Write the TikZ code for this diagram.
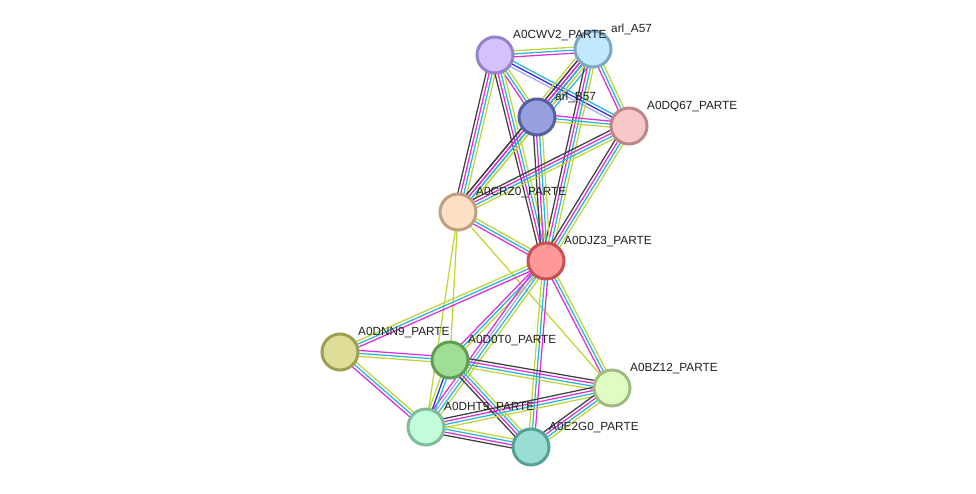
\documentclass[tikz,border=0pt]{standalone}
\usepackage{fontspec}
\setmainfont{Liberation Sans}
\usetikzlibrary{calc}
\pgfdeclarelayer{background}
\pgfsetlayers{background,main}
\definecolor{tm}{RGB}{190,214,52}
\definecolor{db}{RGB}{38,182,216}
\definecolor{ex}{RGB}{222,44,222}
\definecolor{co}{RGB}{62,62,62}
\definecolor{oc}{RGB}{40,40,232}
\definecolor{ho}{RGB}{168,168,250}
\newcommand\stredge[3]{%
  \foreach \cc [count=\ii] in {#3} {\xdef\ncnt{\ii}}%
  \foreach \cc [count=\ii] in {#3} {%
    \pgfmathsetmacro\off{(\ii-(\ncnt+1)/2)*3.0}%
    \draw[edgeline,\cc] ($(#1)!\off pt!90:(#2)$) -- ($(#2)!\off pt!-90:(#1)$);
  }%
}
\tikzset{
  edgeline/.style={line width=1.25pt},
  prot/.style={circle, minimum size=36pt, line width=3pt, inner sep=0pt},
  plabel/.style={anchor=base west, inner sep=0pt, font=\fontsize{11.8}{13}\selectfont, text=black!88}
}
\begin{document}
\begin{tikzpicture}[x=1pt,y=-1pt]
\useasboundingbox (0,0) rectangle (976,493);
% proteins
\node[prot, fill={rgb,255:red,212;green,194;blue,252}, draw={rgb,255:red,150;green,130;blue,200}] (CWV2) at (495,55) {};
\node[prot, fill={rgb,255:red,194;green,232;blue,252}, draw={rgb,255:red,125;green,168;blue,196}] (A57) at (593,49) {};
\node[prot, fill={rgb,255:red,150;green,160;blue,222}, draw={rgb,255:red,84;green,96;blue,160}] (B57) at (537,117) {};
\node[prot, fill={rgb,255:red,248;green,200;blue,200}, draw={rgb,255:red,190;green,135;blue,135}] (DQ67) at (629,126) {};
\node[prot, fill={rgb,255:red,253;green,223;blue,195}, draw={rgb,255:red,192;green,160;blue,128}] (CRZ0) at (458,212) {};
\node[prot, fill={rgb,255:red,255;green,153;blue,153}, draw={rgb,255:red,200;green,80;blue,80}] (DJZ3) at (546,261) {};
\node[prot, fill={rgb,255:red,222;green,222;blue,153}, draw={rgb,255:red,158;green,158;blue,85}] (DNN9) at (340,352) {};
\node[prot, fill={rgb,255:red,160;green,221;blue,149}, draw={rgb,255:red,94;green,159;blue,85}] (D0T0) at (450,360) {};
\node[prot, fill={rgb,255:red,224;green,252;blue,195}, draw={rgb,255:red,160;green,188;blue,133}] (BZ12) at (612,388) {};
\node[prot, fill={rgb,255:red,195;green,252;blue,217}, draw={rgb,255:red,128;green,188;blue,154}] (DHT9) at (426,427) {};
\node[prot, fill={rgb,255:red,153;green,221;blue,213}, draw={rgb,255:red,85;green,160;blue,151}] (E2G0) at (531,447) {};
% edges
\begin{pgfonlayer}{background}
\stredge{CWV2}{A57}{ex,db,tm}
\stredge{CWV2}{B57}{ex,db,tm}
\stredge{CWV2}{DQ67}{ho,oc,db}
\stredge{CWV2}{CRZ0}{co,ex,db,tm}
\stredge{CWV2}{DJZ3}{co,ex,db,tm}
\stredge{A57}{B57}{tm,ex,co,oc,ho,db}
\stredge{A57}{DQ67}{ex,db,tm}
\stredge{A57}{DJZ3}{co,ex,db,tm}
\stredge{A57}{CRZ0}{co,ex,db,tm}
\stredge{B57}{DQ67}{tm,db,ex}
\stredge{B57}{CRZ0}{co,ex,db,tm}
\stredge{B57}{DJZ3}{co,ex,db,tm}
\stredge{DQ67}{CRZ0}{co,ex,db,tm}
\stredge{DQ67}{DJZ3}{co,ex,db,tm}
\stredge{CRZ0}{DJZ3}{ex,db,tm}
\stredge{CRZ0}{D0T0}{tm}
\stredge{CRZ0}{DHT9}{tm}
\stredge{CRZ0}{BZ12}{tm}
\stredge{DJZ3}{DNN9}{tm,db,ex}
\stredge{DJZ3}{D0T0}{ex,db,tm}
\stredge{DJZ3}{DHT9}{ex,ho,db,tm}
\stredge{DJZ3}{E2G0}{tm,db,ex}
\stredge{DJZ3}{BZ12}{ex,db,tm}
\stredge{DNN9}{D0T0}{tm,db,ex}
\stredge{DNN9}{DHT9}{ex,db,tm}
\stredge{D0T0}{DHT9}{tm,oc,db}
\stredge{D0T0}{BZ12}{tm,db,ex,co}
\stredge{D0T0}{E2G0}{co,ex,db,tm}
\stredge{DHT9}{BZ12}{tm,db,ex,co}
\stredge{DHT9}{E2G0}{co,ex,db,tm}
\stredge{E2G0}{BZ12}{tm,db,ex,co}
\end{pgfonlayer}
% labels
\node[plabel] (lCWV2) at ($(CWV2)+(18,-17)$) {A0CWV2\_PARTE};
\node[plabel] (lA57) at ($(A57)+(18,-17)$) {arl\_A57};
\node[plabel] (lB57) at ($(B57)+(18,-17)$) {arl\_B57};
\node[plabel] (lDQ67) at ($(DQ67)+(18,-17)$) {A0DQ67\_PARTE};
\node[plabel] (lCRZ0) at ($(CRZ0)+(18,-17)$) {A0CRZ0\_PARTE};
\node[plabel] (lDJZ3) at ($(DJZ3)+(18,-17)$) {A0DJZ3\_PARTE};
\node[plabel] (lDNN9) at ($(DNN9)+(18,-17)$) {A0DNN9\_PARTE};
\node[plabel] (lD0T0) at ($(D0T0)+(18,-17)$) {A0D0T0\_PARTE};
\node[plabel] (lBZ12) at ($(BZ12)+(18,-17)$) {A0BZ12\_PARTE};
\node[plabel] (lDHT9) at ($(DHT9)+(18,-17)$) {A0DHT9\_PARTE};
\node[plabel] (lE2G0) at ($(E2G0)+(18,-17)$) {A0E2G0\_PARTE};
\end{tikzpicture}
\end{document}
